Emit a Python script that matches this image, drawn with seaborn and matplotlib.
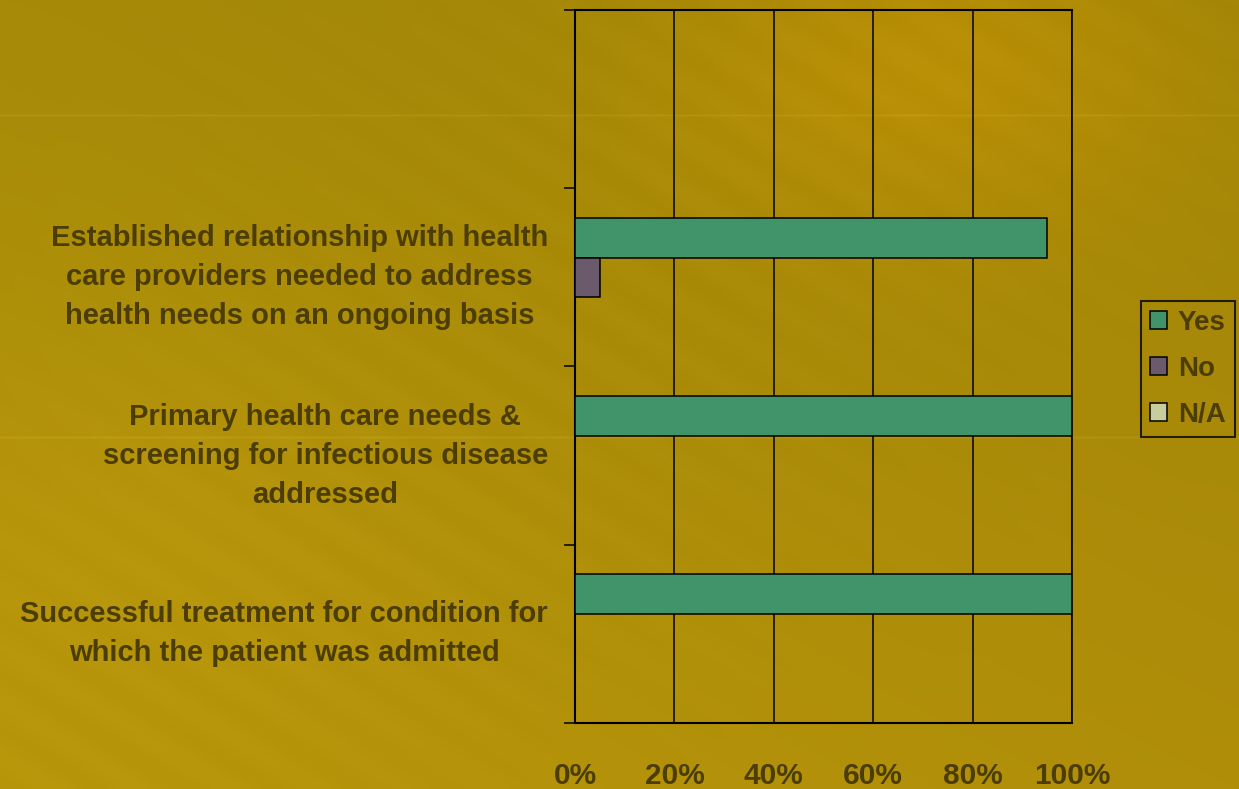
import numpy as np
import pandas as pd
import matplotlib
matplotlib.use("Agg")
import matplotlib.pyplot as plt
from matplotlib.patches import Patch
import seaborn as sns

# ---- data -------------------------------------------------------------
categories = [
    "",
    "Established relationship with health\ncare providers needed to address\nhealth needs on an ongoing basis",
    "Primary health care needs &\nscreening for infectious disease\naddressed",
    "Successful treatment for condition for\nwhich the patient was admitted",
]
series = ["Yes", "No", "N/A"]
yes_values = [np.nan, 0.95, 1.00, 1.00]
no_values = [np.nan, 0.05, 0.0, 0.0]
na_values = [np.nan, 0.0, 0.0, 0.0]
x_ticks = [0.0, 0.2, 0.4, 0.6, 0.8, 1.0]
x_tick_labels = ["0%", "20%", "40%", "60%", "80%", "100%"]

colors = {"Yes": "#41936a", "No": "#6a5a6b", "N/A": "#c9cc9c"}
text_color = "#4b3d04"

df = pd.DataFrame({
    "category": categories * 3,
    "series": sum([[s] * len(categories) for s in series], []),
    "value": yes_values + no_values + na_values,
})

sns.set_theme(style="white")
plt.rcParams["font.family"] = ["Liberation Sans", "DejaVu Sans"]
plt.rcParams["font.weight"] = "bold"

W, H, DPI = 1239, 789, 100
fig = plt.figure(figsize=(W / DPI, H / DPI), dpi=DPI)

# ---- gold slide background ---------------------------------------------
bg_ax = fig.add_axes([0, 0, 1, 1], zorder=-10)
yy, xx = np.mgrid[0:H, 0:W]
u, v = xx / W, yy / H
tl = np.array([0xa6, 0x8a, 0x08]) / 255
tr = np.array([0xa0, 0x84, 0x07]) / 255
bl = np.array([0xb8, 0x96, 0x0a]) / 255
br = np.array([0xb0, 0x8e, 0x0a]) / 255
img = ((1 - u)[..., None] * (1 - v)[..., None] * tl + u[..., None] * (1 - v)[..., None] * tr
       + (1 - u)[..., None] * v[..., None] * bl + u[..., None] * v[..., None] * br)
glow = np.exp(-(((xx - 930) / 260) ** 2 + ((yy - 70) / 160) ** 2))
img += glow[..., None] * (np.array([0xc2, 0x93, 0x05]) / 255 - img) * 0.7
glow2 = np.exp(-(((xx - 120) / 300) ** 2 + ((yy - 560) / 200) ** 2))
img += glow2[..., None] * (np.array([0xbd, 0x9a, 0x0e]) / 255 - img) * 0.5
streak = 0.006 * np.sin((xx - yy * 1.6) / 14.0) * np.exp(-((xx + yy - 900) / 450) ** 2)
img += streak[..., None]
for y0 in (115, 437):
    band = np.exp(-((yy - y0) / 1.0) ** 2)
    img += band[..., None] * 0.035
img = np.clip(img, 0, 1)
bg_ax.imshow(img, aspect="auto", extent=[0, 1, 0, 1], origin="upper")
bg_ax.axis("off")

# ---- chart ---------------------------------------------------------------
ax = fig.add_axes([575 / W, 1 - 723 / H, (1072 - 575) / W, (723 - 10) / H])
ax.set_facecolor("none")
sns.barplot(
    data=df, y="category", x="value", hue="series", order=categories,
    hue_order=series, palette=colors, saturation=1, orient="h", width=0.667,
    edgecolor="black", linewidth=1.1, ax=ax, legend=False, zorder=3,
)

ax.set_xlim(0, 1)
ax.set_ylim(len(categories) - 0.5, -0.5)
ax.set_xticks(x_ticks)
ax.set_xticklabels(x_tick_labels)
ax.set_xlabel("")
ax.set_ylabel("")

ax.grid(axis="x", color="black", linewidth=1.1, zorder=1)
ax.grid(axis="y", visible=False)
ax.set_axisbelow(True)

for side in ("left", "top", "bottom", "right"):
    ax.spines[side].set_visible(True)
    ax.spines[side].set_color("black")
    ax.spines[side].set_linewidth(1.5)
ax.spines["right"].set_linewidth(1.2)

ax.tick_params(axis="x", direction="out", length=8, width=1.1, color="black",
               pad=20, labelsize=21.5, labelcolor=text_color)
ax.set_yticks(range(len(categories)))
ax.set_yticklabels(categories)
ax.set_yticks(np.arange(-0.5, len(categories), 1.0), minor=True)
ax.tick_params(axis="y", which="major", length=0, pad=19.5, labelsize=21,
               labelcolor=text_color)
ax.tick_params(axis="y", which="minor", direction="out", length=8, width=1.1,
               color="black", left=True)
for lbl in ax.get_yticklabels():
    lbl.set_multialignment("center")
    lbl.set_linespacing(1.5)
    lbl.set_verticalalignment("center")
    lbl.set_fontweight("bold")
for lbl in ax.get_xticklabels():
    lbl.set_fontweight("bold")

# ---- legend --------------------------------------------------------------
handles = [Patch(facecolor=colors[s], edgecolor="black", linewidth=1.1, label=s)
           for s in series]
leg = fig.legend(
    handles=handles, loc="center left", bbox_to_anchor=(1141 / W, 1 - 369 / H),
    frameon=True, fancybox=False, edgecolor="black", facecolor="none",
    fontsize=20, handlelength=0.6, handleheight=0.6, handletextpad=0.4,
    labelspacing=0.72, borderpad=0.33, borderaxespad=0,
)
leg.get_frame().set_linewidth(1.5)
for t in leg.get_texts():
    t.set_color(text_color)
    t.set_fontweight("bold")

fig.savefig("out.png", dpi=DPI)
